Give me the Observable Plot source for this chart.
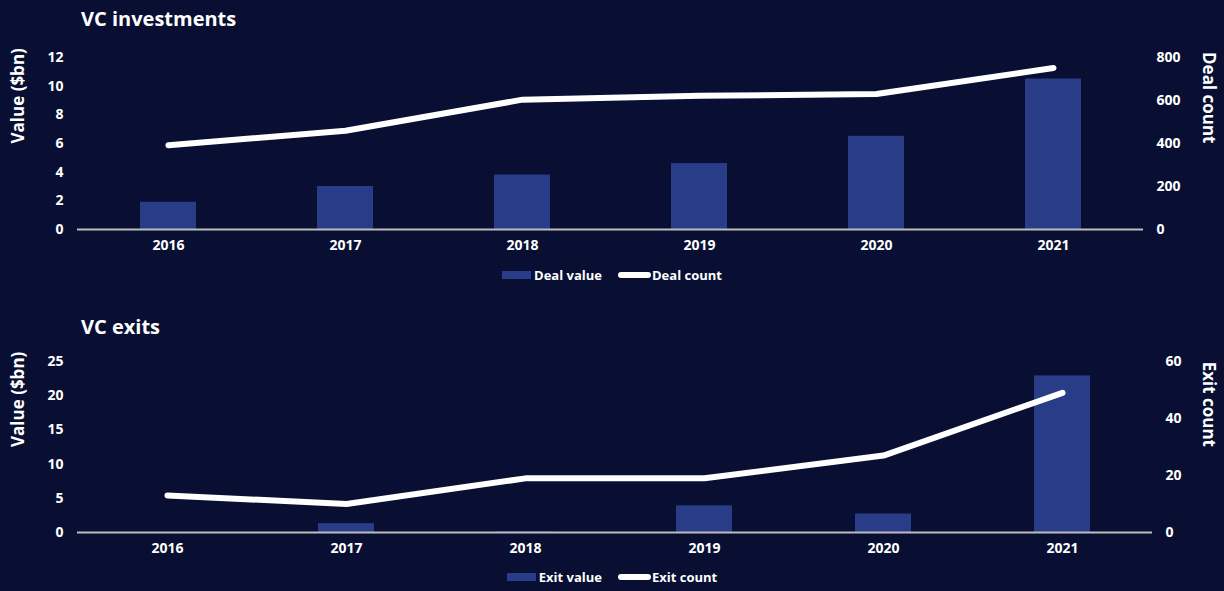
<!DOCTYPE html>
<html>
<head>
<meta charset="utf-8">
<script src="https://cdn.jsdelivr.net/npm/d3@7"></script>
<script src="https://cdn.jsdelivr.net/npm/@observablehq/plot@0.6"></script>
<style>
  html, body { margin: 0; padding: 0; background: #080f33; }
  body { width: 1224px; height: 591px; overflow: hidden; font-family: "Open Sans", Lato, sans-serif; color: #fff; }
  .title { font-weight: 700; font-size: 20px; padding-left: 81px; box-sizing: border-box; display: flex; align-items: center; }
  .legend { display: flex; justify-content: center; align-items: center; font-weight: 700; font-size: 13px; gap: 0; }
  .legend .sw-bar { display: inline-block; width: 29px; height: 8px; background: #283c88; margin-right: 3px; }
  .legend .sw-line { display: inline-block; width: 33px; height: 6px; background: #fff; border-radius: 3px; margin-left: 16px; margin-right: 1px; }
  svg { display: block; }
</style>
</head>
<body>
<div id="t1" class="title" style="height:36px">VC investments</div>
<div id="c1"></div>
<div id="l1" class="legend" style="height:26px"></div>
<div id="t2" class="title" style="height:56px;padding-top:20px">VC exits</div>
<div id="c2"></div>
<div id="l2" class="legend" style="height:29px"></div>
<script>
const years = ["2016", "2017", "2018", "2019", "2020", "2021"];
const dealValue = [1.9, 3.0, 3.8, 4.6, 6.5, 10.5];
const dealCount = [392, 459, 604, 622, 630, 751];
const exitValue = [0, 1.3, 0.1, 3.9, 2.7, 22.9];
const exitCount = [13, 10, 19, 19, 27, 49];

const dealValueTicks = [0, 2, 4, 6, 8, 10, 12];
const dealCountTicks = [0, 200, 400, 600, 800];
const exitValueTicks = [0, 5, 10, 15, 20, 25];
const exitCountTicks = [0, 20, 40, 60];

const BAR = "#283c88";
const BG = "#080f33";
const FONT = "'Open Sans', Lato, sans-serif";

function dualChart({values, counts, vTicks, cTicks, vMax, cMax, leftLabel, rightLabel, height, marginTop, marginBottom, marginRight}) {
  const k = vMax / cMax;
  const data = years.map((y, i) => ({year: y, value: values[i], count: counts[i] * k}));
  return Plot.plot({
    width: 1224,
    height,
    marginLeft: 77,
    marginRight,
    marginTop,
    marginBottom,
    style: {background: BG, color: "#fff", fontFamily: FONT, fontWeight: 700, fontSize: "14px"},
    x: {domain: years, paddingInner: 0.685, paddingOuter: 0.3425},
    y: {domain: [0, vMax]},
    marks: [
      Plot.barY(data, {x: "year", y: "value", fill: BAR}),
      Plot.ruleY([0], {stroke: "#bdbdbd", strokeWidth: 2}),
      Plot.line(data, {x: "year", y: "count", stroke: "#fff", strokeWidth: 6, strokeLinecap: "round", strokeLinejoin: "round"}),
      Plot.axisX({tickSize: 0, tickPadding: 11, label: null, fontSize: 14, fontWeight: 700}),
      Plot.axisY(vTicks, {anchor: "left", tickSize: 0, tickPadding: 14, label: null, fontSize: 14, fontWeight: 700}),
      Plot.axisY(cTicks.map(c => c * k), {anchor: "right", tickSize: 0, tickPadding: 13, label: null, fontSize: 14, tickFormat: d => String(Math.round(d / k)), fontWeight: 700}),
      Plot.text([leftLabel], {frameAnchor: "left", dx: -59, rotate: -90, fontSize: 17, fontWeight: 700, fill: "#fff"}),
      Plot.text([rightLabel], {frameAnchor: "right", dx: marginRight - 16, rotate: 90, fontSize: 17, fontWeight: 700, fill: "#fff"})
    ]
  });
}

document.getElementById("c1").appendChild(dualChart({
  values: dealValue, counts: dealCount, vTicks: dealValueTicks, cTicks: dealCountTicks,
  vMax: 12, cMax: 800, leftLabel: "Value ($bn)", rightLabel: "Deal count",
  height: 226, marginTop: 21, marginBottom: 33, marginRight: 81
}));
document.getElementById("c2").appendChild(dualChart({
  values: exitValue, counts: exitCount, vTicks: exitValueTicks, cTicks: exitCountTicks,
  vMax: 25, cMax: 60, leftLabel: "Value ($bn)", rightLabel: "Exit count",
  height: 218, marginTop: 17, marginBottom: 30, marginRight: 72
}));

function legend(el, a, b) {
  el.innerHTML = `<span class="sw-bar"></span><span>${a}</span><span class="sw-line"></span><span>${b}</span>`;
}
legend(document.getElementById("l1"), "Deal value", "Deal count");
legend(document.getElementById("l2"), "Exit value", "Exit count");
</script>
</body>
</html>
